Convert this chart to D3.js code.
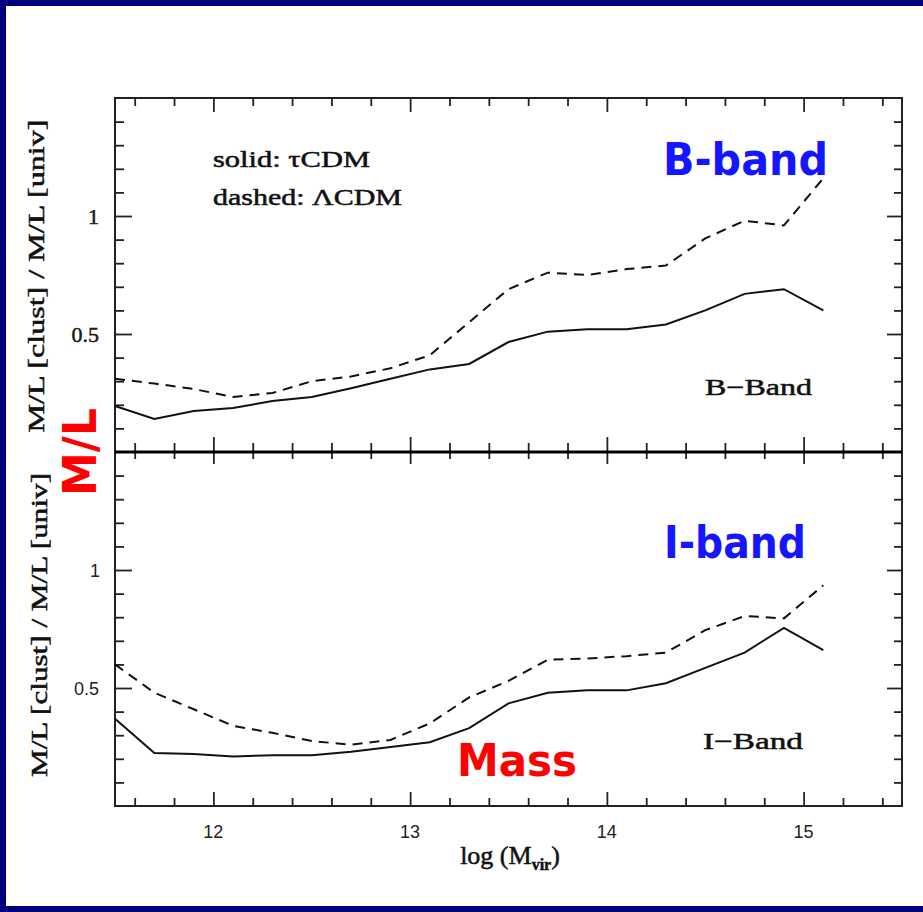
<!DOCTYPE html>
<html><head><meta charset="utf-8">
<script src="https://cdn.jsdelivr.net/npm/d3@7"></script>
<style>html,body{margin:0;padding:0;background:#fff;}svg{display:block;}</style>
</head><body>
<script>
// ---- data ----
const logM = [11.5,11.7,11.9,12.1,12.3,12.5,12.7,12.9,13.1,13.3,13.5,13.7,13.9,14.1,14.3,14.5,14.7,14.9,15.1];
const bandB_tauCDM = [0.195,0.14,0.174,0.186,0.216,0.233,0.27,0.31,0.35,0.373,0.466,0.51,0.52,0.52,0.54,0.60,0.67,0.69,0.60];
const bandB_LCDM   = [0.31,0.29,0.267,0.233,0.25,0.30,0.32,0.355,0.41,0.55,0.69,0.76,0.75,0.775,0.79,0.905,0.98,0.96,1.16];
const bandI_tauCDM = [0.37,0.225,0.22,0.21,0.215,0.215,0.23,0.25,0.27,0.33,0.435,0.48,0.49,0.49,0.52,0.585,0.65,0.755,0.66];
const bandI_LCDM   = [0.6,0.48,0.41,0.34,0.31,0.275,0.26,0.28,0.35,0.46,0.53,0.62,0.625,0.635,0.65,0.745,0.805,0.795,0.935];
const xMajorTicks = [12,13,14,15];
const xMinorTicks = [11.6,11.8,12.2,12.4,12.6,12.8,13.2,13.4,13.6,13.8,14.2,14.4,14.6,14.8,15.2,15.4];
const yMajorTicks = [0.5,1];
const yMinorTicks = [0.1,0.2,0.3,0.4,0.6,0.7,0.8,0.9,1.1,1.2,1.3,1.4];

const W = 923, H = 912;
const svg = d3.select("body").append("svg").attr("width", W).attr("height", H);
svg.append("rect").attr("width", W).attr("height", H).attr("fill", "#fff");
// navy border
const navy = "#000080";
svg.append("rect").attr("x",0).attr("y",0).attr("width",W).attr("height",6).attr("fill",navy);
svg.append("rect").attr("x",0).attr("y",0).attr("width",6).attr("height",H).attr("fill",navy);
svg.append("rect").attr("x",0).attr("y",H-6).attr("width",W).attr("height",6).attr("fill",navy);

const L = 115, R = 902, T = 98, M = 452, B = 806;
const x = d3.scaleLinear().domain([11.5, 15.5]).range([L, R]);
const yTop = d3.scaleLinear().domain([0, 1.5]).range([M, T]);
const yBot = d3.scaleLinear().domain([0, 1.5]).range([B, M]);

const axisCol = "#222";
function ticks(axisFn, scale, vals, size, tx, ty) {
  const g = svg.append("g").attr("transform", `translate(${tx},${ty})`)
    .call(axisFn(scale).tickValues(vals).tickSizeInner(size).tickSizeOuter(0).tickFormat(""));
  g.select(".domain").remove();
  g.selectAll("line").attr("stroke", axisCol).attr("stroke-width", 1.8);
  return g;
}
ticks(d3.axisTop, x, xMinorTicks, -8, 0, T);
ticks(d3.axisTop, x, xMajorTicks, -14, 0, T);
ticks(d3.axisTop, x, xMinorTicks, 9, 0, M);
ticks(d3.axisTop, x, xMajorTicks, 15, 0, M);
ticks(d3.axisBottom, x, xMinorTicks, 7, 0, M);
ticks(d3.axisBottom, x, xMajorTicks, 12, 0, M);
ticks(d3.axisBottom, x, xMinorTicks, -8, 0, B);
ticks(d3.axisBottom, x, xMajorTicks, -14, 0, B);
[yTop, yBot].forEach(ys => {
  ticks(d3.axisLeft, ys, yMinorTicks, -9, L, 0);
  ticks(d3.axisLeft, ys, yMajorTicks, -17, L, 0);
  ticks(d3.axisRight, ys, yMinorTicks, -8, R, 0);
  ticks(d3.axisRight, ys, yMajorTicks, -15, R, 0);
});

// frame
svg.append("rect").attr("x", L).attr("y", T).attr("width", R - L).attr("height", B - T)
  .attr("fill", "none").attr("stroke", axisCol).attr("stroke-width", 2);
svg.append("line").attr("x1", L).attr("x2", R).attr("y1", M).attr("y2", M)
  .attr("stroke", "#000").attr("stroke-width", 3);

// lines
function drawLine(vals, ys, dashed) {
  const line = d3.line().x((d, i) => x(logM[i])).y(d => ys(d));
  svg.append("path").datum(vals).attr("d", line)
    .attr("fill", "none").attr("stroke", "#111").attr("stroke-width", 2)
    .attr("stroke-dasharray", dashed ? "10,7" : null);
}
drawLine(bandB_tauCDM, yTop, false);
drawLine(bandB_LCDM, yTop, true);
drawLine(bandI_tauCDM, yBot, false);
drawLine(bandI_LCDM, yBot, true);

const serif = "'Liberation Serif', 'DejaVu Serif', serif";
const sans = "'Liberation Sans', Arial, sans-serif";
const boldSans = "'DejaVu Sans', Verdana, sans-serif";

function heavy(sel) { return sel.attr("stroke", "#111").attr("stroke-width", 0.5); }

// x tick labels
svg.append("g").selectAll("text").data(xMajorTicks).join("text")
  .attr("x", d => x(d)).attr("y", 838).attr("text-anchor", "middle")
  .attr("font-family", sans).attr("font-size", 18).attr("fill", "#222")
  .text(d => d);
// x title
const xt = svg.append("text").attr("x", 510).attr("y", 864).attr("text-anchor", "middle")
  .attr("font-family", serif).attr("font-size", 26).attr("fill", "#111");
heavy(xt);
xt.append("tspan").text("log (M");
xt.append("tspan").attr("font-size", 16).attr("font-weight", "bold").attr("dy", 6).text("vir");
xt.append("tspan").attr("dy", -6).text(")");

// y tick labels
heavy(svg.append("text").attr("x", 99).attr("y", yTop(1) + 8).attr("text-anchor", "end")
  .attr("font-family", serif).attr("font-size", 22).attr("fill", "#222").text("1"));
heavy(svg.append("text").attr("x", 99).attr("y", yTop(0.5) + 8).attr("text-anchor", "end")
  .attr("font-family", serif).attr("font-size", 22).attr("fill", "#222").text("0.5"));
svg.append("text").attr("x", 100).attr("y", yBot(1) + 7).attr("text-anchor", "end")
  .attr("font-family", sans).attr("font-size", 18).attr("fill", "#222").text("1");
svg.append("text").attr("x", 99).attr("y", yBot(0.5) + 7).attr("text-anchor", "end")
  .attr("font-family", sans).attr("font-size", 18).attr("fill", "#222").text("0.5");

// y titles
function yTitle(cx, cy, len) {
  heavy(svg.append("text").attr("transform", `translate(${cx},${cy}) rotate(-90)`)
    .attr("text-anchor", "middle").attr("dominant-baseline", "central")
    .attr("font-family", serif).attr("font-size", 24).attr("fill", "#111")
    .attr("textLength", len).attr("lengthAdjust", "spacingAndGlyphs")
    .text("M/L [clust] / M/L [univ]"));
}
yTitle(36, 276, 313);
yTitle(39, 625, 304);

// legend text
function serifText(txt, xx, yy, len) {
  heavy(svg.append("text").attr("x", xx).attr("y", yy).attr("font-family", serif).attr("font-size", 23)
    .attr("fill", "#111").attr("textLength", len).attr("lengthAdjust", "spacingAndGlyphs").text(txt));
}
serifText("solid: τCDM", 213, 167, 157);
serifText("dashed: ΛCDM", 213, 205, 189);
serifText("B\u2212Band", 705, 395, 107);
serifText("I\u2212Band", 703, 749, 100);

// annotations
function ann(txt, xx, yy, len, col, fs) {
  svg.append("text").attr("x", xx).attr("y", yy).attr("font-family", boldSans).attr("font-weight", "bold")
    .attr("font-size", fs).attr("fill", col).attr("textLength", len).attr("lengthAdjust", "spacingAndGlyphs").text(txt);
}
const blue = "#1515ff", red = "#ff0000";
ann("B-band", 663, 175, 165, blue, 45);
ann("I-band", 664, 558, 142, blue, 45);
ann("Mass", 457, 776, 120, red, 45);
svg.append("text").attr("transform", "translate(96,452) rotate(-90)").attr("text-anchor", "middle")
  .attr("font-family", boldSans).attr("font-weight", "bold").attr("font-size", 46).attr("fill", red)
  .attr("textLength", 88).attr("lengthAdjust", "spacingAndGlyphs").text("M/L");
</script>
</body></html>
